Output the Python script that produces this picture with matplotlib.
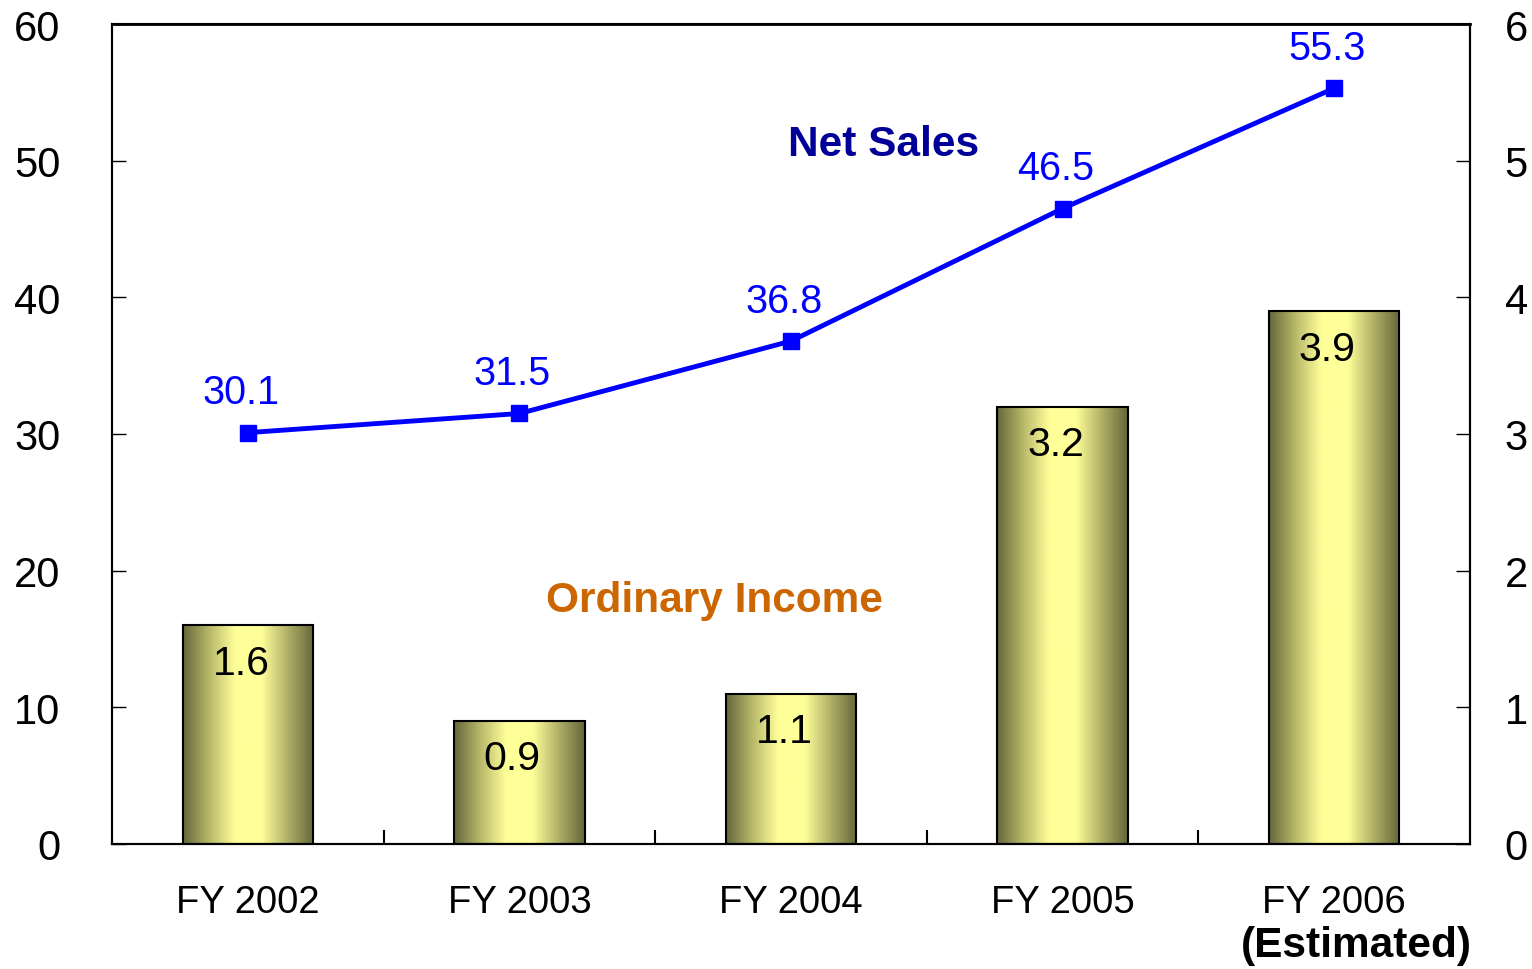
import numpy as np
import matplotlib.pyplot as plt
from matplotlib.colors import LinearSegmentedColormap

plt.rcParams['font.family'] = ['Liberation Sans', 'DejaVu Sans']

# data
years = ['FY 2002', 'FY 2003', 'FY 2004', 'FY 2005', 'FY 2006']
net_sales = [30.1, 31.5, 36.8, 46.5, 55.3]
ordinary_income = [1.6, 0.9, 1.1, 3.2, 3.9]
left_ticks = [0, 10, 20, 30, 40, 50, 60]
right_ticks = [0, 1, 2, 3, 4, 5, 6]

fig = plt.figure(figsize=(15.32, 9.70), dpi=100)
ax = fig.add_axes([0.0731, 0.1289, 0.8864, 0.8453])
ax2 = ax.twinx()
ax.set_zorder(ax2.get_zorder() + 1)
ax.patch.set_visible(False)

x = np.arange(len(years))
bar_w = 0.48

# olive -> pale yellow -> olive gradient for the bars
cmap = LinearSegmentedColormap.from_list(
    'olive', ['#66663a', '#b8b86a', '#ffff99', '#ffff99', '#b0b068', '#66663a'])
grad = np.linspace(0, 1, 256).reshape(1, -1)

bars = ax2.bar(x, ordinary_income, width=bar_w, facecolor='none',
               edgecolor='black', linewidth=1.5, zorder=3)
for b in bars:
    x0, w, h = b.get_x(), b.get_width(), b.get_height()
    im = ax2.imshow(grad, cmap=cmap, aspect='auto', extent=[x0, x0 + w, 0, h],
                    zorder=2, interpolation='bicubic')
    im.set_clip_path(b)
    ax2.annotate(f'{h:.1f}', (x0 + w / 2, h), xytext=(-5, -27),
                 textcoords='offset points', ha='center', va='center',
                 fontsize=29.5, color='black', zorder=4)

ax.plot(x, net_sales, color='#0000ff', lw=3.5, marker='s', markersize=12,
        zorder=5)
for xi, v in zip(x, net_sales):
    ax.annotate(f'{v:.1f}', (xi, v), xytext=(-5, 29),
                textcoords='offset points', ha='center', va='center',
                fontsize=28.5, color='#0000ff')

ax.text(2.34, 51.2, 'Net Sales', fontsize=30.5, fontweight='bold',
        color='#000099', ha='center', va='center')
ax.text(1.72, 17.85, 'Ordinary Income', fontsize=30.5, fontweight='bold',
        color='#cc6600', ha='center', va='center')

ax.set_xlim(-0.5, len(years) - 0.5)
ax.set_ylim(0, 60)
ax2.set_ylim(0, 6)
ax2.set_xlim(-0.5, len(years) - 0.5)

ax.set_yticks(left_ticks)
ax2.set_yticks(right_ticks)
ax.tick_params(axis='y', direction='in', length=10, width=1, labelsize=30,
               pad=37)
ax2.tick_params(axis='y', direction='in', length=10, width=1, labelsize=30,
                pad=25)

# category labels centred under bars, ticks on the boundaries
ax.set_xticks(x)
ax.set_xticklabels(years, fontsize=27.5)
ax.tick_params(axis='x', which='major', length=0, pad=29)
ax.set_xticks(np.arange(0.5, len(years) - 1, 1), minor=True)
ax.tick_params(axis='x', which='minor', direction='in', length=10, width=1.5)
ax.annotate('(Estimated)', (x[-1], 0), xycoords=('data', 'axes fraction'),
            xytext=(16, -73), textcoords='offset points', ha='center',
            va='center', fontsize=30.5, fontweight='bold')

for a in (ax, ax2):
    for s in a.spines.values():
        s.set_linewidth(1.5)
ax.spines['top'].set_linewidth(2)

fig.savefig('out.png', dpi=100)
